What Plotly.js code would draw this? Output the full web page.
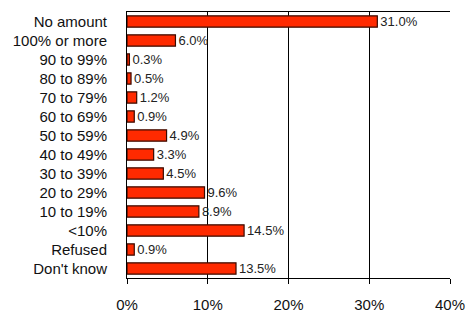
<!DOCTYPE html>
<html>
<head>
<meta charset="utf-8">
<script src="https://cdn.plot.ly/plotly-3.0.1.min.js"></script>
<style>html,body{margin:0;padding:0;background:#fff;}#chart{width:472px;height:314px;}</style>
</head>
<body>
<div id="chart"></div>
<script>
var categories = ["No amount","100% or more","90 to 99%","80 to 89%","70 to 79%","60 to 69%","50 to 59%","40 to 49%","30 to 39%","20 to 29%","10 to 19%","<10%","Refused","Don't know"];
var values = [31.0, 6.0, 0.3, 0.5, 1.2, 0.9, 4.9, 3.3, 4.5, 9.6, 8.9, 14.5, 0.9, 13.5];
var labels = values.map(function(v){ return v.toFixed(1) + "%"; });
var tickVals = [0, 10, 20, 30, 40];
var tickText = ["0%", "10%", "20%", "30%", "40%"];

var trace = {
  type: "bar",
  orientation: "h",
  y: categories,
  x: values,
  text: labels,
  textposition: "outside",
  constraintext: "none",
  cliponaxis: false,
  textfont: {family: "Liberation Sans, Arial, sans-serif", size: 13, color: "#222"},
  marker: {color: "#FF2A00", line: {color: "#3a0a00", width: 1.2}},
  width: 0.6,
  hoverinfo: "none"
};

var layout = {
  width: 472, height: 314,
  margin: {l: 127, r: 22, t: 12, b: 36},
  paper_bgcolor: "#fff", plot_bgcolor: "#fff",
  showlegend: false,
  font: {family: "Liberation Sans, Arial, sans-serif", size: 15, color: "#111"},
  xaxis: {
    range: [0, 40],
    tickvals: tickVals, ticktext: tickText,
    showgrid: true, gridcolor: "#000", gridwidth: 1,
    zeroline: false,
    showline: true, linecolor: "#000", linewidth: 1, mirror: true,
    ticks: "outside", ticklen: 5, tickcolor: "#000",
    ticklabelstandoff: 8,
    tickfont: {size: 15}
  },
  yaxis: {
    autorange: "reversed",
    type: "category",
    showgrid: false, zeroline: false,
    showline: true, linecolor: "#000", linewidth: 1,
    ticks: "", ticklabelstandoff: 16,
    tickfont: {size: 15}
  }
};

Plotly.newPlot("chart", [trace], layout, {displayModeBar: false, staticPlot: true});
</script>
</body>
</html>
